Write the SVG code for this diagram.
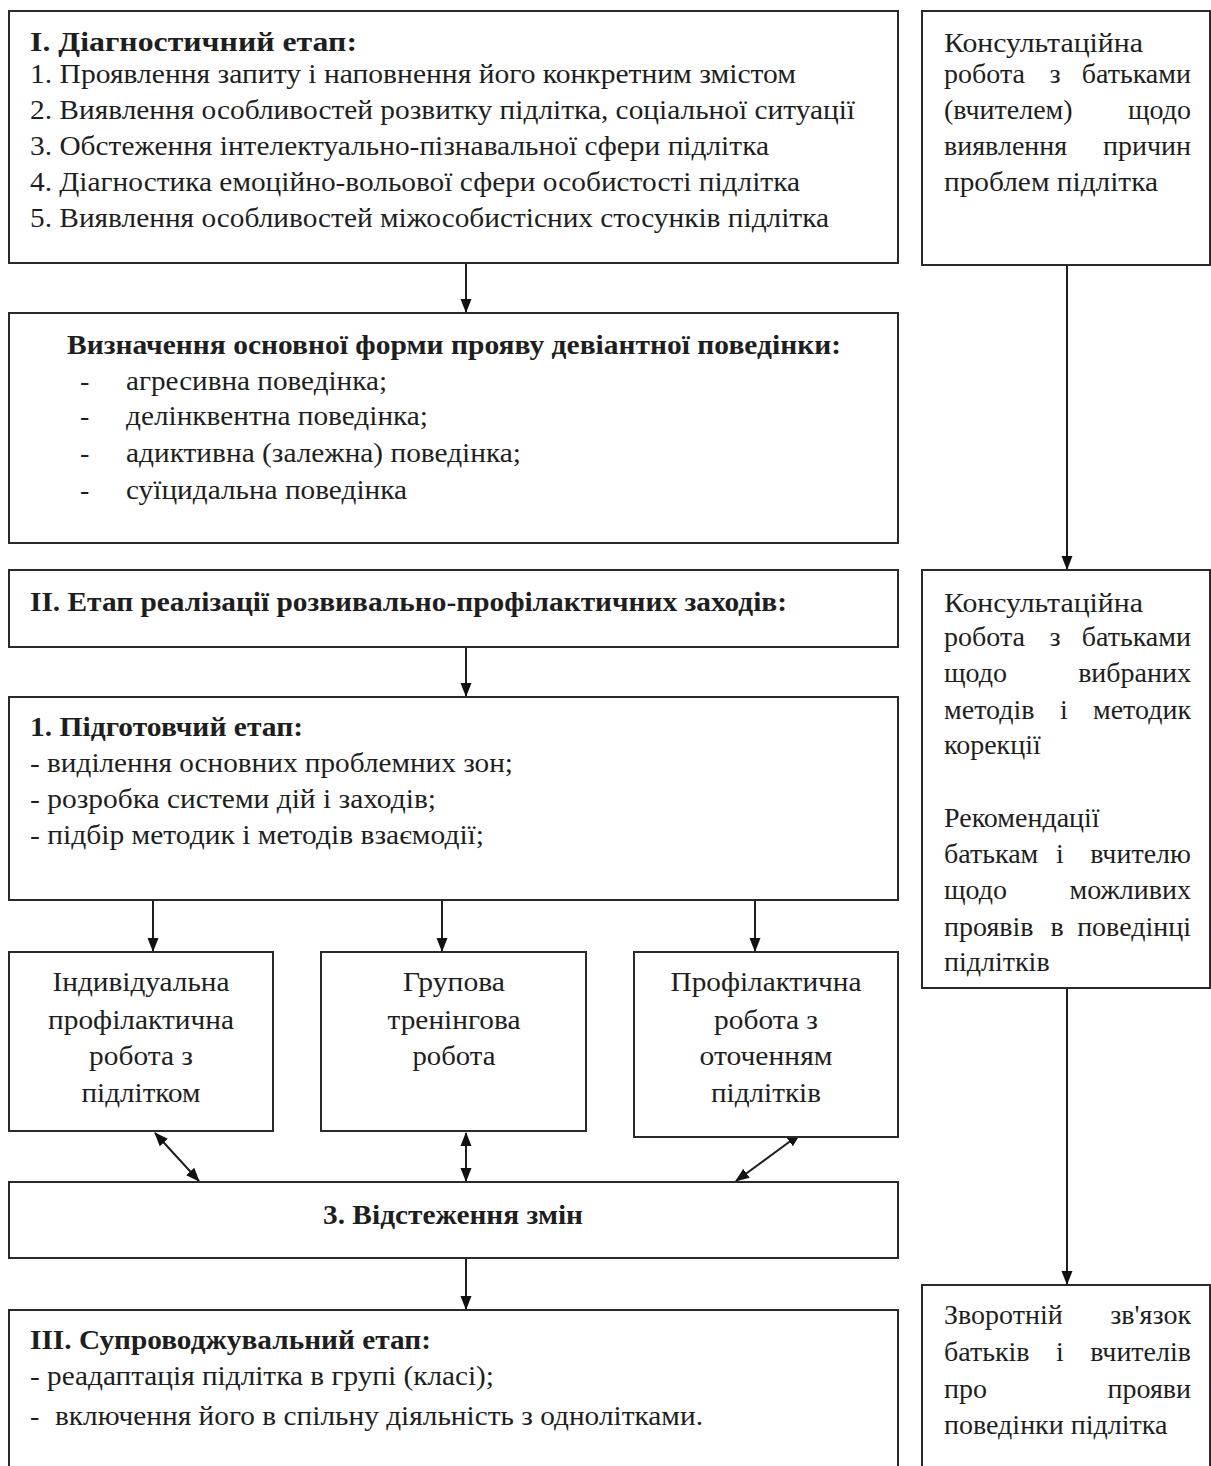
<svg xmlns="http://www.w3.org/2000/svg" width="1211" height="1466" viewBox="0 0 1211 1466">
<style>
  .box { fill: #ffffff; stroke: #2a2a2a; stroke-width: 2; }
  text { font-family: "Liberation Serif", "Times New Roman", serif; font-size: 28px; fill: #1e1e1e; }
  .b { font-weight: bold; }
  .m { text-anchor: middle; }
  .e { text-anchor: end; }
  .con { stroke: #1e1e1e; stroke-width: 2; fill: none; }
</style>
<defs>
  <marker id="ah" markerUnits="userSpaceOnUse" markerWidth="14" markerHeight="14" viewBox="0 0 14 14" refX="13" refY="7" orient="auto-start-reverse">
    <path d="M0,1.5 L14,7 L0,12.5 Z" fill="#111"/>
  </marker>
</defs>
<rect width="1211" height="1466" fill="#ffffff"/>

<g id="connectors">
  <line class="con" x1="466" y1="263" x2="466" y2="312" marker-end="url(#ah)"/>
  <line class="con" x1="466" y1="647" x2="466" y2="696" marker-end="url(#ah)"/>
  <line class="con" x1="153" y1="900" x2="153" y2="951" marker-end="url(#ah)"/>
  <line class="con" x1="442" y1="900" x2="442" y2="951" marker-end="url(#ah)"/>
  <line class="con" x1="755" y1="900" x2="755" y2="951" marker-end="url(#ah)"/>
  <line class="con" x1="155" y1="1133" x2="199" y2="1181" marker-start="url(#ah)" marker-end="url(#ah)"/>
  <line class="con" x1="466" y1="1133" x2="466" y2="1181" marker-start="url(#ah)" marker-end="url(#ah)"/>
  <line class="con" x1="800" y1="1134" x2="736" y2="1181" marker-start="url(#ah)" marker-end="url(#ah)"/>
  <line class="con" x1="466" y1="1258" x2="466" y2="1309" marker-end="url(#ah)"/>
  <line class="con" x1="1067" y1="265" x2="1067" y2="569" marker-end="url(#ah)"/>
  <line class="con" x1="1067" y1="983" x2="1067" y2="1284" marker-end="url(#ah)"/>
</g>

<g id="diagnostic">
  <rect class="box" x="9" y="11" width="889" height="252"/>
  <text class="b" x="30" y="51" textLength="327" lengthAdjust="spacingAndGlyphs">I. Діагностичний етап:</text>
  <text x="30" y="83" textLength="766" lengthAdjust="spacingAndGlyphs">1. Проявлення запиту і наповнення його конкретним змістом</text>
  <text x="30" y="119" textLength="825" lengthAdjust="spacingAndGlyphs">2. Виявлення особливостей розвитку підлітка, соціальної ситуації</text>
  <text x="30" y="155" textLength="739" lengthAdjust="spacingAndGlyphs">3. Обстеження інтелектуально-пізнавальної сфери підлітка</text>
  <text x="30" y="191" textLength="770" lengthAdjust="spacingAndGlyphs">4. Діагностика емоційно-вольової сфери особистості підлітка</text>
  <text x="30" y="227" textLength="799" lengthAdjust="spacingAndGlyphs">5. Виявлення особливостей міжособистісних стосунків підлітка</text>
</g>

<g id="consult1">
  <rect class="box" x="922" y="11" width="288" height="254"/>
  <text x="944" y="52" textLength="199" lengthAdjust="spacingAndGlyphs">Консультаційна</text>
  <text x="944" y="83">робота</text><text class="m" x="1055" y="83">з</text><text class="e" x="1191" y="83">батьками</text>
  <text x="944" y="119">(вчителем)</text><text class="e" x="1191" y="119">щодо</text>
  <text x="944" y="155">виявлення</text><text class="e" x="1191" y="155">причин</text>
  <text x="944" y="191" textLength="214" lengthAdjust="spacingAndGlyphs">проблем підлітка</text>
</g>

<g id="forms">
  <rect class="box" x="9" y="313" width="889" height="230"/>
  <text class="b" x="67" y="354" textLength="774" lengthAdjust="spacingAndGlyphs">Визначення основної форми прояву девіантної поведінки:</text>
  <text x="80" y="390">-</text><text x="126" y="390" textLength="261" lengthAdjust="spacingAndGlyphs">агресивна поведінка;</text>
  <text x="80" y="425">-</text><text x="126" y="425" textLength="302" lengthAdjust="spacingAndGlyphs">делінквентна поведінка;</text>
  <text x="80" y="462">-</text><text x="126" y="462" textLength="395" lengthAdjust="spacingAndGlyphs">адиктивна (залежна) поведінка;</text>
  <text x="80" y="499">-</text><text x="126" y="499" textLength="281" lengthAdjust="spacingAndGlyphs">суїцидальна поведінка</text>
</g>

<g id="stage2">
  <rect class="box" x="9" y="570" width="889" height="77"/>
  <text class="b" x="30" y="611" textLength="757" lengthAdjust="spacingAndGlyphs">II. Етап реалізації розвивально-профілактичних заходів:</text>
</g>

<g id="prep">
  <rect class="box" x="9" y="697" width="889" height="203"/>
  <text class="b" x="30" y="736" textLength="273" lengthAdjust="spacingAndGlyphs">1. Підготовчий етап:</text>
  <text x="30" y="772" textLength="483" lengthAdjust="spacingAndGlyphs">- виділення основних проблемних зон;</text>
  <text x="30" y="808" textLength="406" lengthAdjust="spacingAndGlyphs">- розробка системи дій і заходів;</text>
  <text x="30" y="844" textLength="454" lengthAdjust="spacingAndGlyphs">- підбір методик і методів взаємодії;</text>
</g>

<g id="individual">
  <rect class="box" x="9" y="952" width="264" height="179"/>
  <text class="m" x="141" y="991" textLength="177" lengthAdjust="spacingAndGlyphs">Індивідуальна</text>
  <text class="m" x="141" y="1029" textLength="186" lengthAdjust="spacingAndGlyphs">профілактична</text>
  <text class="m" x="141" y="1065" textLength="104" lengthAdjust="spacingAndGlyphs">робота з</text>
  <text class="m" x="141" y="1102" textLength="119" lengthAdjust="spacingAndGlyphs">підлітком</text>
</g>

<g id="group">
  <rect class="box" x="321" y="952" width="265" height="179"/>
  <text class="m" x="454" y="991" textLength="102" lengthAdjust="spacingAndGlyphs">Групова</text>
  <text class="m" x="454" y="1029" textLength="133" lengthAdjust="spacingAndGlyphs">тренінгова</text>
  <text class="m" x="454" y="1065" textLength="83" lengthAdjust="spacingAndGlyphs">робота</text>
</g>

<g id="environment">
  <rect class="box" x="634" y="952" width="264" height="185"/>
  <text class="m" x="766" y="991" textLength="191" lengthAdjust="spacingAndGlyphs">Профілактична</text>
  <text class="m" x="766" y="1029" textLength="104" lengthAdjust="spacingAndGlyphs">робота з</text>
  <text class="m" x="766" y="1065" textLength="133" lengthAdjust="spacingAndGlyphs">оточенням</text>
  <text class="m" x="766" y="1102" textLength="110" lengthAdjust="spacingAndGlyphs">підлітків</text>
</g>

<g id="tracking">
  <rect class="box" x="9" y="1182" width="889" height="76"/>
  <text class="b m" x="453" y="1224" textLength="260" lengthAdjust="spacingAndGlyphs">3. Відстеження змін</text>
</g>

<g id="stage3">
  <rect class="box" x="9" y="1310" width="889" height="170"/>
  <text class="b" x="30" y="1349" textLength="401" lengthAdjust="spacingAndGlyphs">III. Супроводжувальний етап:</text>
  <text x="30" y="1385" textLength="464" lengthAdjust="spacingAndGlyphs">- реадаптація підлітка в групі (класі);</text>
  <text x="30" y="1425">-</text><text x="55" y="1425" textLength="648" lengthAdjust="spacingAndGlyphs">включення його в спільну діяльність з однолітками.</text>
</g>

<g id="consult2">
  <rect class="box" x="922" y="570" width="288" height="418"/>
  <text x="944" y="612" textLength="199" lengthAdjust="spacingAndGlyphs">Консультаційна</text>
  <text x="944" y="646">робота</text><text class="m" x="1055" y="646">з</text><text class="e" x="1191" y="646">батьками</text>
  <text x="944" y="682">щодо</text><text class="e" x="1191" y="682">вибраних</text>
  <text x="944" y="719">методів</text><text class="m" x="1064" y="719">і</text><text class="e" x="1191" y="719">методик</text>
  <text x="944" y="754">корекції</text>
  <text x="944" y="827">Рекомендації</text>
  <text x="944" y="863">батькам</text><text class="m" x="1060" y="863">і</text><text class="e" x="1191" y="863">вчителю</text>
  <text x="944" y="899">щодо</text><text class="e" x="1191" y="899">можливих</text>
  <text x="944" y="936">проявів</text><text class="m" x="1057" y="936">в</text><text class="e" x="1191" y="936">поведінці</text>
  <text x="944" y="971">підлітків</text>
</g>

<g id="feedback">
  <rect class="box" x="922" y="1285" width="288" height="195"/>
  <text x="944" y="1324">Зворотній</text><text class="e" x="1191" y="1324">зв'язок</text>
  <text x="944" y="1361">батьків</text><text class="m" x="1060" y="1361">і</text><text class="e" x="1191" y="1361">вчителів</text>
  <text x="944" y="1398">про</text><text class="e" x="1191" y="1398">прояви</text>
  <text x="944" y="1434">поведінки підлітка</text>
</g>
</svg>
